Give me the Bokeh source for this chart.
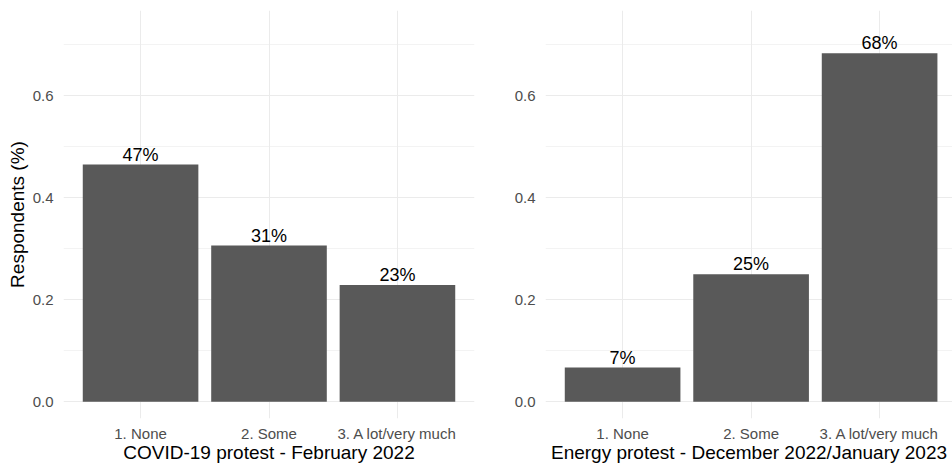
from bokeh.plotting import figure
from bokeh.layouts import row
from bokeh.models import FixedTicker, ColumnDataSource
from bokeh.embed import file_html
from bokeh.resources import INLINE
from bokeh.core.properties import value

categories = ["1. None", "2. Some", "3. A lot/very much"]
covid_share = [0.465, 0.306, 0.229]
covid_labels = ["47%", "31%", "23%"]
energy_share = [0.067, 0.250, 0.683]
energy_labels = ["7%", "25%", "68%"]
y_major = [0.0, 0.2, 0.4, 0.6]
y_minor = [0.1, 0.3, 0.5, 0.7]
titles = ["COVID-19 protest - February 2022", "Energy protest - December 2022/January 2023"]

FONT = "Liberation Sans"
BAR = "#595959"
GRID = "#EBEBEB"


def panel(shares, labels, title, width, border_left, border_right, x_end, ylabel):
    xs = list(range(1, len(categories) + 1))
    src = ColumnDataSource(dict(x=xs, top=shares, lab=labels))
    p = figure(width=width, height=468, output_backend="svg", toolbar_location=None,
               x_range=(0.4, x_end), y_range=(-0.033, 0.767),
               min_border_left=border_left, min_border_right=border_right,
               min_border_top=10, min_border_bottom=50)
    p.vbar(x="x", top="top", bottom=0, width=0.9, source=src, fill_color=BAR, line_color=None)
    p.text(x="x", y="top", text="lab", source=src, text_align="center",
           text_baseline="bottom", y_offset=0, text_font=value(FONT),
           text_font_size="18px", text_color="black")
    p.outline_line_color = None
    p.background_fill_color = "white"
    p.border_fill_color = "white"

    p.xaxis.ticker = FixedTicker(ticks=xs)
    p.xaxis.major_label_overrides = {i: c for i, c in zip(xs, categories)}
    p.yaxis.ticker = FixedTicker(ticks=y_major)
    p.yaxis.major_label_overrides = {v: f"{v:.1f}" for v in y_major}
    for ax in (p.xaxis[0], p.yaxis[0]):
        ax.axis_line_color = None
        ax.major_tick_line_color = None
        ax.minor_tick_line_color = None
        ax.major_tick_out = 0
        ax.major_tick_in = 0
        ax.major_label_text_font = FONT
        ax.major_label_text_font_size = "15px"
        ax.major_label_text_color = "#4D4D4D"
        ax.axis_label_text_font = FONT
        ax.axis_label_text_font_size = "19px"
        ax.axis_label_text_font_style = "normal"
        ax.axis_label_text_color = "black"
    p.xaxis.major_label_standoff = 6
    p.xaxis.axis_label_standoff = -3
    p.xaxis.axis_label = title
    p.yaxis.major_label_standoff = 10
    p.yaxis.axis_label_standoff = 2
    if ylabel:
        p.yaxis.axis_label = ylabel

    p.xgrid.ticker = FixedTicker(ticks=xs)
    p.xgrid.grid_line_color = GRID
    p.xgrid.grid_line_width = 1
    p.ygrid.ticker = FixedTicker(ticks=y_major, minor_ticks=y_minor)
    p.ygrid.grid_line_color = GRID
    p.ygrid.grid_line_width = 1
    p.ygrid.minor_grid_line_color = GRID
    p.ygrid.minor_grid_line_width = 0.6
    return p


left = panel(covid_share, covid_labels, titles[0], 480, 63, 6, 3.6, "Respondents (%)")
right = panel(energy_share, energy_labels, titles[1], 472, 65, 0, 0.4 + 407 / 128.5, None)

layout = row(left, right)
open("out.html", "w").write(file_html(layout, INLINE))
